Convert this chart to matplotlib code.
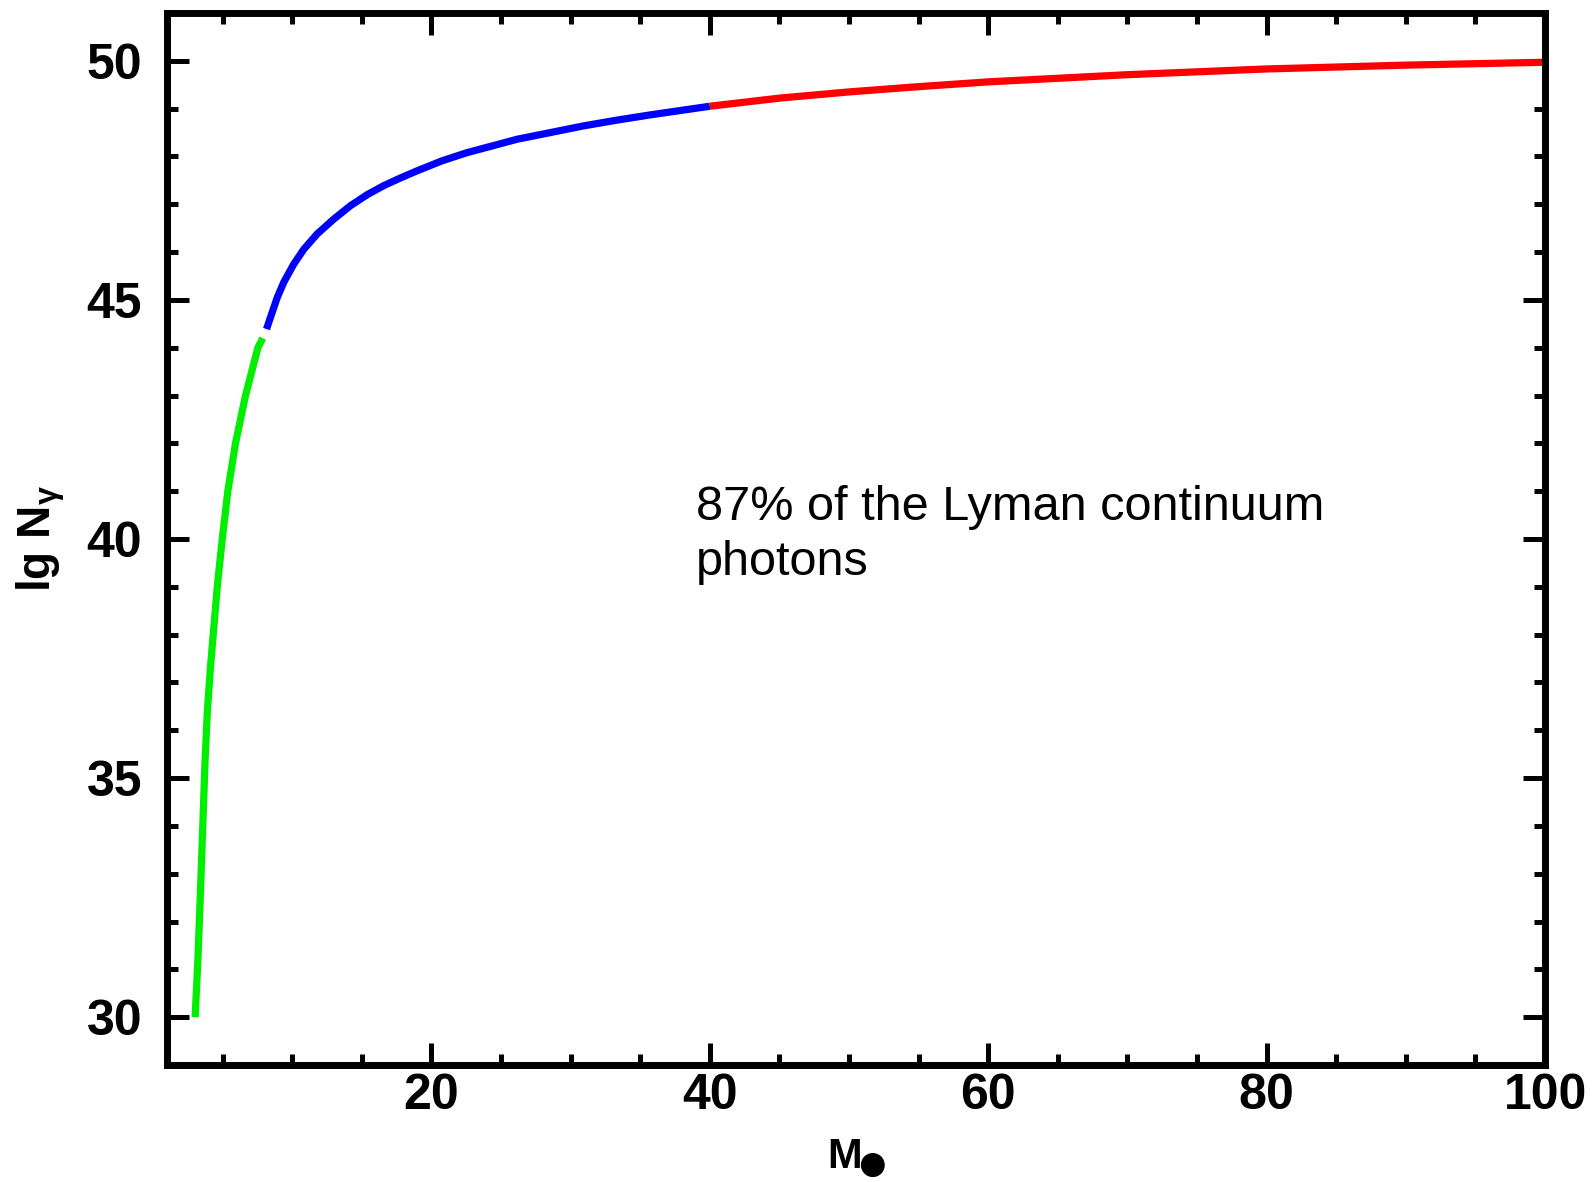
import matplotlib
matplotlib.use("Agg")
import matplotlib.pyplot as plt
from matplotlib.ticker import MultipleLocator

plt.rcParams['font.family'] = ['Liberation Sans', 'DejaVu Sans']
plt.rcParams['mathtext.fontset'] = 'custom'
plt.rcParams['mathtext.rm'] = 'Liberation Sans'
plt.rcParams['mathtext.bf'] = 'Liberation Sans:bold'
plt.rcParams['mathtext.it'] = 'Liberation Sans:italic'

# ---- data ----
green_mass = [3.02, 3.22, 3.40, 3.57, 3.74, 3.90, 4.13, 4.32, 4.61, 4.97, 5.37, 5.92, 6.64, 7.53, 7.88]
green_lgN = [30.0, 31.2, 32.6, 34.0, 35.4, 36.4, 37.35, 38.0, 39.0, 40.0, 41.0, 42.0, 43.0, 44.0, 44.2]

blue_mass = [8.15, 8.44, 8.92, 9.39, 10.11, 10.83, 11.79, 12.98, 14.18, 15.38, 16.57, 17.77,
             18.97, 20.77, 22.56, 24.36, 26.15, 28.55, 30.94, 33.33, 35.73, 38.10, 40.0]
blue_lgN = [44.39, 44.64, 45.05, 45.37, 45.75, 46.06, 46.38, 46.69, 46.97, 47.20, 47.39, 47.55,
            47.70, 47.91, 48.08, 48.22, 48.36, 48.50, 48.64, 48.76, 48.87, 48.97, 49.05]

red_mass = [40.0, 45.0, 50.0, 55.0, 60.0, 70.0, 80.0, 90.0, 100.0]
red_lgN = [49.05, 49.22, 49.35, 49.46, 49.56, 49.71, 49.83, 49.91, 49.97]

x_ticks = [20, 40, 60, 80, 100]
y_ticks = [30, 35, 40, 45, 50]
annotation_lines = ["87% of the Lyman continuum", "photons"]

fig = plt.figure(figsize=(15.95, 11.82), dpi=100)
ax = fig.add_axes([0.1047, 0.099, 0.864, 0.890])

lw = 5.2
ax.plot(green_mass, green_lgN, color='#00ee00', lw=lw, solid_capstyle='butt', solid_joinstyle='round')
ax.plot(blue_mass, blue_lgN, color='#0000ff', lw=lw, solid_capstyle='butt', solid_joinstyle='round')
ax.plot(red_mass, red_lgN, color='#ff0000', lw=lw, solid_capstyle='butt', solid_joinstyle='round')

ax.set_xlim(1, 100)
ax.set_ylim(29, 51)
ax.set_xticks(x_ticks)
ax.set_yticks(y_ticks)
ax.xaxis.set_minor_locator(MultipleLocator(5))
ax.yaxis.set_minor_locator(MultipleLocator(1))

ax.tick_params(which='both', direction='in', top=True, right=True, colors='black')
ax.tick_params(which='major', length=15.5, width=3.6)
ax.tick_params(which='minor', length=8.0, width=3.6)
ax.tick_params(axis='y', which='major', pad=18, labelsize=36)
ax.tick_params(axis='x', which='major', pad=6, labelsize=36)
for lab in ax.get_xticklabels() + ax.get_yticklabels():
    lab.set_fontweight('bold')

for sp in ax.spines.values():
    sp.set_linewidth(5.0)
    sp.set_capstyle('projecting')

ax.set_xlabel("M", fontsize=30, fontweight='bold', labelpad=12.5)
ax.xaxis.label.set_x(0.4917)
ax.annotate(r"$●$", xy=(1, 0), xycoords=ax.xaxis.label, xytext=(-5.0, 7.5),
            textcoords='offset points', ha='left', va='center', fontsize=40, color='black')
ax.set_ylabel(r"$\mathbf{lg\ N}_{\mathbf{\gamma}}$", fontsize=33, labelpad=14)

ax.text(39.0, 40.40, annotation_lines[0], fontsize=35, ha='left', va='baseline')
ax.text(39.0, 39.25, annotation_lines[1], fontsize=35, ha='left', va='baseline')

fig.savefig("out.png", dpi=100)
